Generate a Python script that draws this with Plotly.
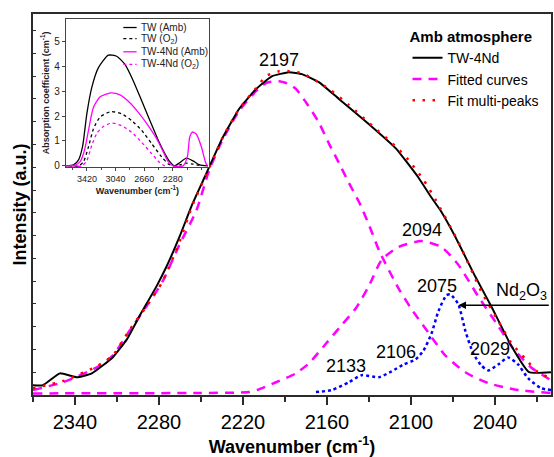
import plotly.graph_objects as go

# ---------------- main panel data (wavenumber cm-1, intensity a.u.) ----------------
wn_exp = [2370.0, 2362.9, 2350.8, 2338.7, 2328.0, 2313.1, 2303.1, 2293.9, 2281.8, 2274.7,
          2265.4, 2256.2, 2247.6, 2234.8, 2222.7, 2210.6, 2199.2, 2187.1, 2177.9, 2165.8,
          2151.5, 2132.3, 2111.0, 2094.6, 2085.4, 2079.0, 2068.3, 2054.1, 2042.7, 2028.5,
          2015.7, 2000.0]
int_exp = [0.43, 0.43, 0.95, 0.78, 0.95, 1.65, 2.43, 3.47, 4.77, 5.63,
           6.94, 8.38, 9.54, 11.27, 12.57, 13.44, 14.00, 14.17, 14.09, 13.74,
           13.00, 12.01, 10.84, 9.54, 8.67, 8.11, 6.94, 5.20, 3.90, 2.17,
           1.00, 1.00]

wn_sum = [2370.0, 2348.7, 2324.5, 2313.1, 2301.0, 2288.9, 2277.5, 2265.4, 2256.2, 2244.1,
          2234.8, 2222.7, 2210.6, 2203.5, 2194.2, 2187.1, 2177.9, 2158.7, 2144.4, 2130.2,
          2111.0, 2101.8, 2091.1, 2082.5, 2066.2, 2049.8, 2037.7, 2028.5, 2018.5, 2009.3,
          2000.0]
int_sum = [0.30, 0.61, 1.26, 1.73, 2.86, 3.90, 4.98, 6.72, 8.32, 9.97,
           11.27, 12.57, 13.48, 14.00, 14.22, 14.22, 14.13, 13.44, 12.74, 11.96,
           10.92, 10.32, 9.45, 8.58, 6.72, 4.55, 3.25, 2.30, 1.60, 1.00,
           0.74]

# fitted peak centred near 2197
wn_fit1 = [2370.0, 2348.7, 2324.5, 2313.1, 2301.0, 2288.9, 2277.5, 2265.4, 2253.3, 2244.1,
           2234.8, 2222.7, 2210.6, 2203.5, 2194.2, 2187.1, 2182.2, 2174.3, 2165.8, 2158.7,
           2151.5, 2144.4, 2135.9, 2128.8, 2122.4, 2108.9, 2099.6, 2087.5, 2075.4, 2061.2,
           2044.8, 2023.5, 2000.0]
int_fit1 = [0.22, 0.56, 1.21, 1.73, 2.82, 3.90, 4.98, 6.60, 8.10, 9.88,
            11.18, 12.48, 13.35, 13.70, 13.78, 13.65, 13.44, 12.79, 11.96, 11.05,
            10.19, 9.32, 8.32, 7.28, 6.29, 4.68, 3.77, 2.73, 1.73, 1.00,
            0.52, 0.22, 0.09]

# fitted peak centred near 2094
wn_fit2 = [2370.0, 2251.2, 2215.6, 2209.9, 2196.4, 2182.2, 2172.9, 2160.8, 2149.4, 2139.4,
           2130.2, 2120.9, 2108.9, 2092.5, 2078.3, 2066.2, 2052.0, 2037.7, 2027.0, 2014.2,
           2000.0]
int_fit2 = [0.07, 0.09, 0.13, 0.22, 0.56, 0.95, 1.39, 2.25, 3.08, 3.81,
            4.77, 5.94, 6.50, 6.76, 6.50, 5.72, 4.33, 3.03, 2.04, 1.21,
            0.65]

# small Nd2O3-related peaks (2133, 2106, 2075, 2029)
wn_small = [2167.9, 2156.5, 2144.4, 2135.2, 2123.1, 2113.8, 2105.3, 2096.8, 2091.1, 2085.4,
            2080.4, 2074.7, 2071.9, 2066.2, 2061.2, 2055.5, 2049.8, 2044.8, 2037.7, 2030.6,
            2023.5, 2016.4, 2007.1, 2000.0]
int_small = [0.13, 0.22, 0.56, 0.87, 0.78, 1.04, 1.34, 1.56, 1.95, 2.69,
             3.68, 4.38, 4.42, 3.99, 2.82, 1.82, 1.30, 1.08, 1.34, 1.65,
             1.34, 0.74, 0.30, 0.22]

peak_labels = ["2197", "2094", "2075", "2133", "2106", "2029"]
peak_label_x = [2194.2, 2091.8, 2081.1, 2146.6, 2111.0, 2043.4]
peak_label_y = [14.69, 7.24, 4.77, 1.26, 1.91, 2.04]

main_xticks = [2340, 2280, 2220, 2160, 2100, 2040]

# ---------------- inset data (wavenumber cm-1, absorption coefficient cm-1) ----------------
ins_wn_tw_amb = [3700, 3598, 3532, 3479, 3422, 3356, 3268, 3136, 3026, 2916, 2805, 2695,
                 2585, 2474, 2387, 2321, 2255, 2189, 2100, 2012, 1924, 1813]
ins_tw_amb = [0.0, 0.04, 0.24, 0.77, 2.09, 3.15, 3.94, 4.44, 4.40, 4.07, 3.41, 2.62,
              1.82, 1.03, 0.50, 0.17, 0.0, 0.13, 0.31, 0.20, 0.04, 0.0]

ins_wn_tw_o2 = [3665, 3532, 3466, 3400, 3334, 3246, 3101, 2960, 2827, 2695, 2563, 2431,
                2342, 2276, 2189, 2100, 2012, 1902]
ins_tw_o2 = [0.0, 0.0, 0.17, 0.77, 1.49, 1.96, 2.18, 2.09, 1.82, 1.43, 0.90, 0.37,
             0.08, 0.0, 0.04, 0.11, 0.07, 0.0]

ins_wn_nd_amb = [3700, 3577, 3511, 3453, 3400, 3334, 3246, 3101, 2982, 2871, 2739, 2607,
                 2497, 2408, 2342, 2276, 2144, 2087, 2056, 2020, 1968, 1902, 1849, 1822]
ins_nd_amb = [0.0, 0.03, 0.17, 0.63, 1.43, 2.35, 2.77, 2.93, 2.85, 2.59, 2.15, 1.62,
              1.10, 0.57, 0.17, 0.0, 0.0, 0.37, 1.16, 1.36, 1.27, 0.77, 0.17, 0.0]

ins_wn_nd_o2 = [3621, 3488, 3422, 3356, 3290, 3202, 3092, 2960, 2827, 2695, 2563, 2453, 2387]
ins_nd_o2 = [0.0, 0.0, 0.21, 0.83, 1.30, 1.58, 1.72, 1.61, 1.35, 0.95, 0.50, 0.13, 0.0]

inset_xticks = [3420, 3040, 2660, 2280]
inset_yticks = [0, 1, 2, 3, 4, 5]
inset_names = ["TW (Amb)", "TW (O<sub>2</sub>)", "TW-4Nd (Amb)", "TW-4Nd (O<sub>2</sub>)"]

FONT = "Liberation Sans, Arial, sans-serif"
MAG = "#FF00FF"
AX = "#2b2b2b"

fig = go.Figure()

# ---- main traces ----
fig.add_trace(go.Scatter(x=wn_fit1, y=int_fit1, mode="lines", name="Fitted curves",
                         line=dict(color=MAG, width=2.5, dash="9px,7px", shape="spline", smoothing=0.6),
                         legendrank=2))
fig.add_trace(go.Scatter(x=wn_fit2, y=int_fit2, mode="lines", showlegend=False,
                         line=dict(color=MAG, width=2.5, dash="9px,7px", shape="spline", smoothing=0.6)))
fig.add_trace(go.Scatter(x=wn_small, y=int_small, mode="lines", showlegend=False,
                         line=dict(color="#0000FF", width=2.5, dash="3px,3px", shape="spline", smoothing=0.6)))
fig.add_trace(go.Scatter(x=wn_exp, y=int_exp, mode="lines", name="TW-4Nd",
                         line=dict(color="black", width=2, shape="spline", smoothing=0.4),
                         legendrank=1))
fig.add_trace(go.Scatter(x=wn_sum, y=int_sum, mode="lines", name="Fit multi-peaks",
                         line=dict(color="#FF0000", width=2.5, dash="2.5px,7.5px", shape="spline", smoothing=0.6),
                         legendrank=3))

# ---- inset traces ----
inset_series = [
    (ins_wn_tw_amb, ins_tw_amb, "black", "solid"),
    (ins_wn_tw_o2, ins_tw_o2, "black", "dot"),
    (ins_wn_nd_amb, ins_nd_amb, MAG, "solid"),
    (ins_wn_nd_o2, ins_nd_o2, MAG, "dot"),
]
for (xs, ys, col, dsh), nm in zip(inset_series, inset_names):
    fig.add_trace(go.Scatter(x=xs, y=ys, mode="lines", name=nm, showlegend=False,
                             xaxis="x2", yaxis="y2",
                             line=dict(color=col, width=1.3, dash=dsh, shape="spline", smoothing=0.6)))

# ---- annotations ----
ann = []
for t, x, y in zip(peak_labels, peak_label_x, peak_label_y):
    ann.append(dict(x=x, y=y, xref="x", yref="y", text=t, showarrow=False,
                    font=dict(size=18, color="black"), xanchor="center", yanchor="middle"))
ann.append(dict(x=2040.6, y=4.55, xref="x", yref="y", text="Nd<sub>2</sub>O<sub>3</sub>",
                showarrow=False, font=dict(size=18, color="black"), xanchor="left", yanchor="middle"))
ann.append(dict(x=2066.2, y=3.94, ax=2000.5, ay=3.94, xref="x", yref="y", axref="x", ayref="y",
                text="", showarrow=True, arrowhead=2, arrowsize=1.1, arrowwidth=1.4, arrowcolor="black"))

# inset legend (manual, short samples as in the original)
leg_y = [0.9645, 0.9352, 0.9008, 0.8679]
shapes = []
for (xs, ys, col, dsh), nm, yy in zip(inset_series, inset_names, leg_y):
    shapes.append(dict(type="line", xref="paper", yref="paper", x0=0.1744, x1=0.2, y0=yy, y1=yy,
                       line=dict(color=col, width=1.3, dash=dsh)))
    ann.append(dict(x=0.2048, y=yy, xref="paper", yref="paper", text=nm, showarrow=False,
                    font=dict(size=10, color="#222"), xanchor="left", yanchor="middle"))

fig.update_layout(
    width=554, height=457,
    margin=dict(l=33, r=1, t=14, b=57),
    plot_bgcolor="white", paper_bgcolor="white",
    font=dict(family=FONT, color="black"),
    showlegend=True,
    legend=dict(x=0.723, y=0.977, xanchor="left", yanchor="top",
                title=dict(text="<b>Amb atmosphere</b>", font=dict(size=15)),
                font=dict(size=14), bgcolor="rgba(0,0,0,0)", borderwidth=0,
                traceorder="normal", tracegroupgap=0),
    xaxis=dict(range=[2370, 2000], domain=[0, 1], tickmode="array", tickvals=main_xticks,
               ticks="outside", ticklen=8, tickwidth=1.5, tickcolor=AX,
               minor=dict(tickmode="linear", tick0=2340, dtick=30, ticks="outside", ticklen=5,
                          tickwidth=1.5, tickcolor=AX, showgrid=False),
               showline=True, mirror=True, linecolor=AX, linewidth=1.5,
               showgrid=False, zeroline=False, tickfont=dict(size=20),
               title=dict(text="<b>Wavenumber (cm<sup>-1</sup>)</b>", font=dict(size=18), standoff=11)),
    yaxis=dict(range=[0, 16.73], domain=[0, 1], tickmode="linear", tick0=0, dtick=1,
               ticks="inside", ticklen=3, tickwidth=1.2, tickcolor=AX, showticklabels=False,
               showline=True, mirror=True, linecolor=AX, linewidth=1.5,
               showgrid=False, zeroline=False,
               title=dict(text="<b>Intensity (a.u.)</b>", font=dict(size=18), standoff=0)),
    xaxis2=dict(domain=[0.0635, 0.3398], anchor="y2", range=[3700, 1800],
                tickmode="array", tickvals=inset_xticks, ticks="outside", ticklen=3,
                tickwidth=1, tickcolor="#444",
                minor=dict(tickmode="linear", tick0=3420, dtick=190, ticks="outside", ticklen=2,
                           tickwidth=1, tickcolor="#444"),
                showline=True, mirror=True, linecolor="#444", linewidth=1,
                showgrid=False, zeroline=False, tickfont=dict(size=9, color="#222"),
                title=dict(text="<b>Wavenumber (cm<sup>-1</sup>)</b>", font=dict(size=9, color="#222"), standoff=3)),
    yaxis2=dict(domain=[0.598, 0.988], anchor="x2", range=[-0.05, 5.91],
                tickmode="array", tickvals=inset_yticks, ticks="outside", ticklen=3,
                tickwidth=1, tickcolor="#444",
                showline=True, mirror=True, linecolor="#444", linewidth=1,
                showgrid=False, zeroline=False, tickfont=dict(size=10, color="#222"),
                title=dict(text="<b>Absorption coefficient (cm<sup>-1</sup>)</b>",
                           font=dict(size=9, color="#222"), standoff=3)),
    annotations=ann,
    shapes=shapes,
)

fig.write_html("out.html")
